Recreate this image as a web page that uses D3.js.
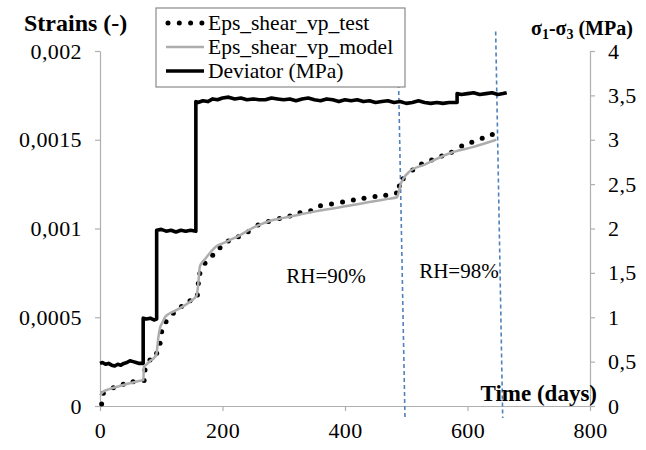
<!DOCTYPE html>
<html lang="en">
<head>
  <meta charset="UTF-8">
  <title>Strains and deviator vs time</title>
  <style>
    body {
      margin: 0;
      padding: 0;
      background: #fff;
    }

    svg text {
      font-family: "Liberation Serif", "DejaVu Serif", serif;
      fill: #000;
    }

    .axis path,
    .axis line {
      stroke: #b0b0b0;
      stroke-width: 1.2;
    }

    .axis text {
      font-size: 22px;
      letter-spacing: 0.4px;
    }

    .title {
      font-weight: bold;
    }
  </style>
</head>
<body>
  <div id="chart"></div>

  <script src="https://d3js.org/d3.v7.min.js"></script>
  <script>
    const serif = "Liberation Serif, DejaVu Serif, serif";

    // axis ticks
    const timeTicks = [0, 200, 400, 600, 800];
    const strainTicks = [0, 0.0005, 0.001, 0.0015, 0.002];
    const strainTickLabels = ["0", "0,0005", "0,001", "0,0015", "0,002"];
    const devTicks = [0, 0.5, 1, 1.5, 2, 2.5, 3, 3.5, 4];
    const devTickLabels = ["0", "0,5", "1", "1,5", "2", "2,5", "3", "3,5", "4"];

    // Eps_shear_vp_test (dots)
    const testDays = [2.7, 5.4, 21.8, 38, 54, 72, 73.5, 81.6, 92.5, 98, 100.7, 107.8, 119.7, 133, 147, 159,
      160.5, 163, 171.4, 184, 196, 209.5, 226, 242, 258, 275, 293, 310, 326.5, 344, 360, 378, 396, 413.6,
      431, 449, 466.5, 484, 488.7, 495, 510.5, 525, 541.5, 558, 574, 590.5, 607, 624, 640.5];
    const testStrain = [0.000011, 0.000072, 0.000103, 0.000122, 0.000137, 0.000143, 0.000203, 0.000259,
      0.000297, 0.000353, 0.000419, 0.000475, 0.000522, 0.00056, 0.000593, 0.000625, 0.00069, 0.000747,
      0.000804, 0.00085, 0.000892, 0.00093, 0.000954, 0.000982, 0.00102, 0.00104, 0.001057, 0.00107,
      0.001089, 0.0011, 0.001128, 0.001138, 0.00115, 0.00116, 0.00117, 0.00118, 0.001187, 0.0012, 0.00124,
      0.00128, 0.00133, 0.001363, 0.001386, 0.001408, 0.00143, 0.001465, 0.001486, 0.001508, 0.00153];

    // Eps_shear_vp_model (grey line)
    const modelDays = [0, 5, 15, 30, 45, 60, 71, 71.5, 76, 82, 88, 92, 95, 98, 102, 106, 112, 120, 135, 147,
      155, 158, 159.5, 161, 163, 167, 172, 180, 190, 201, 215, 229, 245, 260, 278, 300, 325, 350, 375, 400,
      425, 450, 470, 485, 488, 491, 497, 505, 530, 571, 610, 647];
    const modelStrain = [0.00006, 0.00008, 0.000095, 0.00011, 0.000125, 0.000138, 0.000147, 0.00022,
      0.000235, 0.000255, 0.00027, 0.00029, 0.00038, 0.00044, 0.00047, 0.0005, 0.000518, 0.000532, 0.00056,
      0.000588, 0.00061, 0.000625, 0.00066, 0.00071, 0.000785, 0.00081, 0.00083, 0.000865, 0.0009, 0.000917,
      0.00094, 0.000963, 0.000995, 0.00102, 0.001044, 0.00106, 0.001078, 0.001095, 0.00111, 0.001125,
      0.00114, 0.001155, 0.001167, 0.001176, 0.00121, 0.00125, 0.00129, 0.00132, 0.00136, 0.001424,
      0.00146, 0.0015];

    // Deviator (MPa), right axis
    const devDays = [0, 4, 9, 14, 19, 24, 29, 34, 39, 44, 49, 54, 59, 64, 70.5, 70.5, 76, 82, 88, 92.5, 92.5,
      100, 108, 116, 124, 132, 140, 148, 156.5, 156.5, 160, 168, 176, 184, 192, 200,
      210, 220, 230, 240, 250, 260, 270, 280, 290, 300, 310, 320, 330, 340, 350, 360, 370, 380, 390, 400,
      410, 420, 430, 440, 450, 460, 470, 480, 490, 500, 510, 520, 530, 540, 550, 560, 570, 583, 583,
      590, 600, 610, 620, 630, 640, 650, 658, 664];
    const devMPa = [0.48, 0.49, 0.47, 0.48, 0.46, 0.45, 0.47, 0.46, 0.48, 0.49, 0.51, 0.50, 0.49, 0.48,
      0.48, 0.99, 0.98, 0.99, 0.97, 0.98, 1.98,
      1.99, 1.97, 1.98, 1.96, 1.98, 1.97, 1.98, 1.97, 3.43, 3.42, 3.44, 3.43, 3.46, 3.45, 3.47,
      3.48, 3.46, 3.47, 3.45, 3.46, 3.45, 3.45, 3.47, 3.46, 3.45, 3.46, 3.44, 3.46, 3.47, 3.45, 3.44, 3.46,
      3.45, 3.43, 3.45, 3.44, 3.45, 3.43, 3.44, 3.42, 3.43, 3.44, 3.42, 3.43, 3.41, 3.42, 3.44, 3.42, 3.41,
      3.42, 3.41, 3.42, 3.42, 3.52, 3.51, 3.52, 3.53, 3.51, 3.52, 3.53, 3.51, 3.52, 3.53];

    // RH change markers (slanted dashed lines: day at top / bottom, strain at top / bottom)
    const rhTopDays = [486, 646];
    const rhBottomDays = [498, 657.5];
    const rhTopStrain = [0.00209, 0.00211];
    const rhBottomStrain = [-0.000079, -0.000068];
    const rhLabels = ["RH=90%", "RH=98%"];
    const rhLabelDays = [369, 586];
    const rhLabelStrain = [0.000692, 0.00072];

    const legendLabels = ["Eps_shear_vp_test", "Eps_shear_vp_model", "Deviator (MPa)"];

    const width = 646;
    const height = 450;

    const x = d3.scaleLinear().domain([0, 800]).range([100, 590]);
    const yL = d3.scaleLinear().domain([0, 0.002]).range([406, 51]);
    const yR = d3.scaleLinear().domain([0, 4]).range([406, 51]);

    const svg = d3.select("#chart")
      .append("svg")
      .attr("width", width)
      .attr("height", height)
      .attr("font-family", serif);

    // axes
    svg.append("g")
      .attr("class", "axis")
      .attr("transform", "translate(0,406)")
      .call(d3.axisBottom(x).tickValues(timeTicks).tickSizeInner(5).tickSizeOuter(0).tickPadding(11)
        .tickFormat(d3.format("d")))
      .attr("font-family", serif);

    svg.append("g")
      .attr("class", "axis")
      .attr("transform", "translate(100,0)")
      .call(d3.axisLeft(yL).tickValues(strainTicks).tickSizeInner(5).tickSizeOuter(0).tickPadding(13)
        .tickFormat((d, i) => strainTickLabels[i]))
      .attr("font-family", serif);

    svg.append("g")
      .attr("class", "axis")
      .attr("transform", "translate(590,0)")
      .call(d3.axisRight(yR).tickValues(devTicks).tickSizeInner(5).tickSizeOuter(0).tickPadding(13)
        .tickFormat((d, i) => devTickLabels[i]))
      .attr("font-family", serif);

    // dashed RH lines
    svg.selectAll(".rh-line")
      .data(rhTopDays)
      .enter()
      .append("line")
      .attr("class", "rh-line")
      .attr("x1", d => x(d))
      .attr("y1", (d, i) => yL(rhTopStrain[i]))
      .attr("x2", (d, i) => x(rhBottomDays[i]))
      .attr("y2", (d, i) => yL(rhBottomStrain[i]))
      .attr("stroke", "#4f81bd")
      .attr("stroke-width", 1.6)
      .attr("stroke-dasharray", "4,3");

    // deviator
    const devLine = d3.line()
      .x(d => x(d[0]))
      .y(d => yR(d[1]));

    svg.append("path")
      .datum(devDays.map((d, i) => [d, devMPa[i]]))
      .attr("d", devLine)
      .attr("fill", "none")
      .attr("stroke", "#000")
      .attr("stroke-width", 3.6)
      .attr("stroke-linejoin", "round");

    // test dots
    svg.selectAll(".test-dot")
      .data(testDays)
      .enter()
      .append("circle")
      .attr("class", "test-dot")
      .attr("cx", d => x(d))
      .attr("cy", (d, i) => yL(testStrain[i]))
      .attr("r", 2.5)
      .attr("fill", "#000");

    // model line
    const modelLine = d3.line()
      .x(d => x(d[0]))
      .y(d => yL(d[1]))
      .curve(d3.curveMonotoneX);

    svg.append("path")
      .datum(modelDays.map((d, i) => [d, modelStrain[i]]))
      .attr("d", modelLine)
      .attr("fill", "none")
      .attr("stroke", "#adadad")
      .attr("stroke-width", 2.5);

    // RH labels
    svg.selectAll(".rh-label")
      .data(rhLabels)
      .enter()
      .append("text")
      .attr("class", "rh-label")
      .attr("x", (d, i) => x(rhLabelDays[i]))
      .attr("y", (d, i) => yL(rhLabelStrain[i]))
      .attr("text-anchor", "middle")
      .attr("font-size", 21)
      .text(d => d);

    // axis titles
    svg.append("text")
      .attr("class", "title")
      .attr("x", 24)
      .attr("y", 31)
      .attr("font-size", 24)
      .text("Strains (-)");

    const rt = svg.append("text")
      .attr("class", "title")
      .attr("x", 531)
      .attr("y", 35)
      .attr("font-size", 20);
    rt.append("tspan").text("σ");
    rt.append("tspan").attr("font-size", 14).attr("dy", 4).text("1");
    rt.append("tspan").attr("dy", -4).text("-σ");
    rt.append("tspan").attr("font-size", 14).attr("dy", 4).text("3");
    rt.append("tspan").attr("dy", -4).text(" (MPa)");

    svg.append("text")
      .attr("class", "title")
      .attr("x", 597)
      .attr("y", 401)
      .attr("text-anchor", "end")
      .attr("font-size", 23)
      .text("Time (days)");

    // legend
    const legend = svg.append("g").attr("transform", "translate(156,8)");

    legend.append("rect")
      .attr("width", 249)
      .attr("height", 79)
      .attr("fill", "#fff")
      .attr("stroke", "#8a8a8a")
      .attr("stroke-width", 1.2);

    const rowY = [15, 39, 63];

    legend.append("line")
      .attr("x1", 12).attr("x2", 46)
      .attr("y1", rowY[0]).attr("y2", rowY[0])
      .attr("stroke", "#000")
      .attr("stroke-width", 5)
      .attr("stroke-linecap", "round")
      .attr("stroke-dasharray", "0,11.3");

    legend.append("line")
      .attr("x1", 10).attr("x2", 48)
      .attr("y1", rowY[1]).attr("y2", rowY[1])
      .attr("stroke", "#adadad")
      .attr("stroke-width", 2.5);

    legend.append("line")
      .attr("x1", 10).attr("x2", 48)
      .attr("y1", rowY[2]).attr("y2", rowY[2])
      .attr("stroke", "#000")
      .attr("stroke-width", 3.6);

    legend.selectAll(".legend-label")
      .data(legendLabels)
      .enter()
      .append("text")
      .attr("class", "legend-label")
      .attr("x", 52)
      .attr("y", (d, i) => rowY[i] + 7)
      .attr("font-size", 21.5)
      .text(d => d);
  </script>
</body>
</html>
